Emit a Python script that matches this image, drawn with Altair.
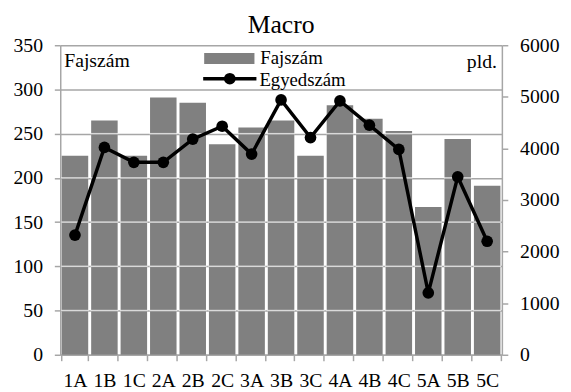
import altair as alt
import pandas as pd

categories = ["1A", "1B", "1C", "2A", "2B", "2C", "3A", "3B", "3C", "4A", "4B", "4C", "5A", "5B", "5C"]
fajszam = [225, 265, 225, 291, 285, 238, 257, 265, 225, 282, 267, 253, 167, 244, 191]
egyedszam = [2320, 4020, 3730, 3730, 4180, 4430, 3890, 4940, 4210, 4920, 4450, 3980, 1200, 3450, 2200]
left_ticks = [0, 50, 100, 150, 200, 250, 300, 350]
right_ticks = [0, 1000, 2000, 3000, 4000, 5000, 6000]

FONT = "Liberation Serif"
GRID = "#a6a6a6"
FS = 20
W, H = 448, 314

df = pd.DataFrame({"cat": categories, "faj": fajszam, "egy": egyedszam})
grid_df = pd.DataFrame(
    [{"cat": c, "g": g} for c, v in zip(categories, fajszam) for g in left_ticks if 0 < g < v]
)

xscale = alt.Scale(domain=categories, paddingInner=0.1, paddingOuter=0.05)
xaxis = alt.Axis(
    title=None, labelAngle=0, tickBand="extent", labelFont=FONT, labelFontSize=FS,
    labelColor="black", domainColor=GRID, domainWidth=1.5, tickColor=GRID, tickWidth=1.5,
    tickSize=6, labelPadding=10, grid=False,
)
lscale = alt.Scale(domain=[0, 350], nice=False)
rscale = alt.Scale(domain=[0, 6000], nice=False)
laxis = alt.Axis(
    title=None, values=left_ticks, labelFont=FONT, labelFontSize=FS, labelColor="black",
    domainColor=GRID, domainWidth=1.5, tickColor=GRID, tickWidth=1.5, tickSize=6,
    labelPadding=12, grid=True, gridColor=GRID, gridWidth=1.5, orient="left")
raxis = alt.Axis(
    title=None, values=right_ticks, format="d", labelFont=FONT, labelFontSize=FS,
    labelColor="black", domainColor=GRID, domainWidth=1.5, tickColor=GRID, tickWidth=1.5,
    tickSize=6, labelPadding=12, grid=False, orient="right")

X = alt.X("cat:N", sort=categories, scale=xscale, axis=xaxis)

bars = alt.Chart(df).mark_bar(color="#808080").encode(
    x=X,
    y=alt.Y("faj:Q", scale=lscale, axis=laxis),
)
white_grid = alt.Chart(grid_df).mark_tick(color="white", thickness=1.5, size=28).encode(
    x=X,
    y=alt.Y("g:Q", scale=lscale, axis=laxis),
)
left = alt.layer(bars, white_grid)

line = alt.Chart(df).mark_line(color="black", strokeWidth=3.5).encode(
    x=X,
    y=alt.Y("egy:Q", scale=rscale, axis=raxis),
)
pts = alt.Chart(df).mark_point(filled=True, color="black", size=140, opacity=1).encode(
    x=X,
    y=alt.Y("egy:Q", scale=rscale, axis=raxis),
)
right = alt.layer(line, pts)

one = alt.Data(values=[{}])
leg_rect = alt.Chart(one).mark_rect(color="#808080").encode(
    x=alt.value(146), x2=alt.value(197), y=alt.value(8), y2=alt.value(19))
leg_line = alt.Chart(one).mark_rule(color="black", strokeWidth=3.5).encode(
    x=alt.value(145), x2=alt.value(199), y=alt.value(34))
leg_pt = alt.Chart(one).mark_point(filled=True, color="black", size=140, opacity=1).encode(
    x=alt.value(172), y=alt.value(34))


def txt(s, x, y, align="left", fs=FS):
    return alt.Chart(one).mark_text(
        font=FONT, fontSize=fs, color="black", align=align, baseline="alphabetic"
    ).encode(x=alt.value(x), y=alt.value(y), text=alt.value(s))


texts = [
    txt("Fajszám", 203, 19, fs=19),
    txt("Egyedszám", 202, 41, fs=19),
    txt("Fajszám", 4, 22),
    txt("pld.", 443, 23, "right"),
]

chart = alt.layer(left, right, leg_rect, leg_line, leg_pt, *texts).resolve_scale(
    y="independent"
).properties(
    width=W, height=H,
    title=alt.TitleParams("Macro", font=FONT, fontSize=26, fontWeight="normal",
                          color="black", anchor="middle", offset=-3),
    autosize=alt.AutoSizeParams(type="none"),
    padding={"left": 53, "top": 35, "right": 62, "bottom": 35},
).configure_view(stroke=None)

chart.save("out.html", embed_options={"renderer": "svg", "actions": False})
